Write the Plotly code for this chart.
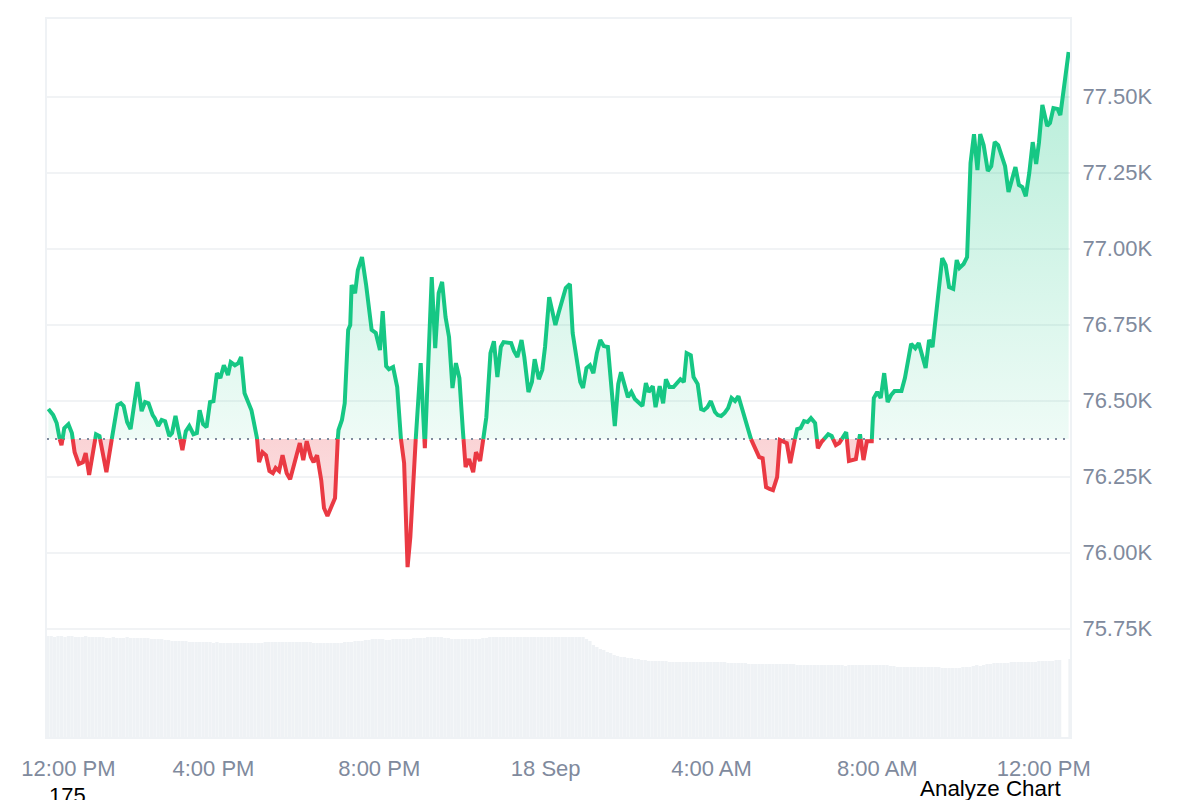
# Price line over a baseline, green above and red below, volume bars underneath
import pandas as pd
import plotly.graph_objs as go

START = pd.Timestamp('2025-09-17 12:00')
BASELINE = 76375

GREEN = '#16C784'
RED = '#EA3943'
GREY_TEXT = '#808A9D'
GRID = '#F1F3F5'
FONT = 'Liberation Sans'

# minutes after 12:00 PM for each price reading
price_minutes = [
    2, 9, 14, 18, 21, 25, 31, 36, 40, 46, 52, 56, 61, 71, 76, 86, 94, 102, 107, 111,
    116, 121, 131, 137, 142, 147, 153, 156, 161, 166, 171, 177, 181, 186, 191, 196, 201, 206, 212, 217,
    221, 226, 231, 236, 241, 246, 251, 256, 262, 266, 272, 277, 281, 286, 291, 296, 304, 307, 312, 317,
    322, 327, 331, 336, 341, 347, 352, 366, 371, 376, 382, 386, 391, 397, 401, 406, 417, 421, 422, 427,
    431, 436, 439, 441, 446, 450, 456, 462, 470, 476, 482, 486, 491, 495, 501, 507, 512, 517, 522, 526,
    534, 541, 547, 552, 557, 562, 567, 572, 577, 582, 587, 592, 597, 602, 606, 611, 617, 621, 627, 632,
    636, 642, 647, 652, 657, 661, 672, 676, 681, 687, 691, 697, 702, 706, 712, 717, 721, 727, 731, 736,
    741, 751, 757, 761, 772, 776, 781, 786, 791, 796, 801, 806, 812, 816, 822, 827, 831, 841, 846, 851,
    862, 867, 871, 877, 881, 887, 892, 896, 901, 907, 917, 922, 926, 932, 936, 942, 947, 951, 956, 961,
    967, 971, 976, 981, 986, 991, 996, 1001, 1008, 1015, 1021, 1026, 1031, 1036, 1041, 1046, 1051, 1057, 1061, 1071,
    1076, 1083, 1086, 1091, 1096, 1101, 1106, 1112, 1116, 1121, 1131, 1136, 1142, 1147, 1157, 1161, 1171, 1177, 1182, 1187,
    1194, 1197, 1202, 1207, 1212, 1217, 1222, 1227, 1237, 1242, 1251, 1257, 1262, 1272, 1277, 1282, 1296, 1301, 1306, 1312,
    1317, 1321, 1327, 1332, 1337, 1342, 1347, 1351, 1356, 1362, 1367, 1372, 1377, 1387, 1392, 1402, 1407, 1412, 1417, 1422,
    1427, 1432, 1436, 1441, 1448, 1452, 1457, 1463, 1467, 1479,
]

price_values = [
    76474, 76454, 76428, 76378, 76355, 76411, 76424, 76395, 76332, 76293, 76299, 76329, 76257, 76391, 76385, 76266, 76378, 76487, 76493, 76484,
    76431, 76408, 76563, 76467, 76497, 76493, 76454, 76444, 76418, 76438, 76434, 76385, 76395, 76451, 76395, 76339, 76401, 76418, 76391, 76395,
    76470, 76424, 76414, 76497, 76500, 76592, 76576, 76618, 76586, 76628, 76618, 76625, 76645, 76526, 76497, 76470, 76378, 76299, 76332, 76322,
    76270, 76263, 76280, 76270, 76322, 76263, 76243, 76362, 76306, 76368, 76316, 76299, 76322, 76240, 76148, 76122, 76181, 76378, 76405, 76438,
    76493, 76734, 76750, 76882, 76855, 76931, 76974, 76882, 76734, 76724, 76668, 76796, 76615, 76605, 76612, 76546, 76382, 76296, 75954, 76053,
    76382, 76625, 76345, 76612, 76908, 76674, 76855, 76892, 76776, 76711, 76543, 76625, 76576, 76405, 76283, 76309, 76266, 76332, 76303, 76382,
    76447, 76658, 76697, 76579, 76678, 76694, 76691, 76665, 76645, 76701, 76645, 76530, 76563, 76638, 76572, 76602, 76678, 76842, 76799, 76750,
    76793, 76872, 76885, 76724, 76563, 76543, 76609, 76618, 76592, 76658, 76701, 76681, 76678, 76559, 76418, 76556, 76595, 76513, 76530, 76507,
    76484, 76559, 76530, 76549, 76480, 76549, 76493, 76572, 76546, 76546, 76572, 76563, 76658, 76651, 76579, 76556, 76474, 76470, 76480, 76500,
    76464, 76454, 76451, 76461, 76477, 76510, 76500, 76516, 76461, 76398, 76365, 76336, 76316, 76312, 76217, 76211, 76207, 76250, 76372, 76362,
    76296, 76378, 76408, 76411, 76434, 76431, 76444, 76428, 76345, 76365, 76391, 76385, 76355, 76362, 76398, 76303, 76309, 76391, 76306, 76368,
    76368, 76510, 76530, 76510, 76592, 76497, 76520, 76533, 76533, 76576, 76688, 76674, 76691, 76609, 76701, 76678, 76970, 76947, 76875, 76869,
    76964, 76938, 76951, 76974, 77283, 77378, 77260, 77378, 77342, 77257, 77273, 77352, 77342, 77273, 77188, 77270, 77211, 77204, 77174, 77250,
    77352, 77280, 77349, 77474, 77405, 77415, 77464, 77461, 77441, 77648,
]

# one row per hour, a bar every five minutes
volume_values = [
    101, 101, 100, 101, 101, 100, 101, 101, 100, 100, 100, 101,
    100, 100, 100, 100, 100, 99, 99, 100, 99, 99, 99, 100,
    99, 99, 99, 99, 99, 99, 98, 98, 98, 98, 97, 97,
    96, 96, 96, 96, 96, 95, 95, 95, 95, 95, 95, 95,
    94, 95, 94, 94, 94, 94, 94, 94, 94, 94, 94, 94,
    94, 94, 94, 95, 95, 95, 95, 95, 95, 95, 95, 95,
    95, 95, 95, 95, 95, 94, 94, 94, 94, 94, 94, 94,
    94, 94, 95, 95, 95, 96, 96, 96, 97, 97, 98, 98,
    98, 98, 97, 97, 98, 98, 98, 98, 98, 98, 99, 99,
    99, 99, 100, 100, 100, 100, 100, 99, 99, 98, 98, 98,
    98, 98, 98, 98, 98, 98, 99, 99, 100, 100, 100, 100,
    100, 100, 100, 100, 100, 100, 100, 100, 100, 100, 100, 100,
    100, 100, 100, 100, 100, 100, 100, 100, 100, 100, 100, 100,
    98, 96, 92, 90, 88, 87, 85, 84, 82, 81, 80, 80,
    79, 79, 78, 78, 77, 77, 76, 76, 76, 76, 76, 76,
    75, 75, 75, 75, 75, 75, 75, 75, 75, 75, 75, 75,
    75, 75, 75, 75, 75, 74, 74, 74, 74, 74, 74, 73,
    73, 73, 73, 73, 73, 73, 73, 73, 73, 73, 73, 73,
    73, 72, 72, 72, 72, 72, 72, 72, 72, 72, 72, 72,
    72, 72, 72, 71, 72, 72, 72, 72, 72, 72, 72, 72,
    72, 72, 72, 72, 71, 71, 70, 70, 70, 70, 70, 70,
    70, 70, 70, 70, 70, 70, 70, 69, 69, 69, 69, 69,
    69, 70, 70, 70, 71, 72, 71, 72, 73, 73, 74, 74,
    74, 74, 74, 75, 75, 75, 75, 75, 75, 75, 75, 76,
    76, 76, 76, 76, 77, 77, None, None, 78,
]

y_tick_values = [75750, 76000, 76250, 76500, 76750, 77000, 77250, 77500]
y_tick_labels = ['75.75K', '76.00K', '76.25K', '76.50K', '76.75K', '77.00K', '77.25K', '77.50K']

# first label sits half an hour in so it stays inside the chart, like the original
x_tick_minutes = [31, 241, 481, 722, 962, 1202, 1443]
x_tick_labels = ['12:00 PM', '4:00 PM', '8:00 PM', '18 Sep', '4:00 AM', '8:00 AM', '12:00 PM']


def to_time(minutes):
    return START + pd.to_timedelta(minutes, unit='m')


# add a point wherever the line crosses the baseline so the two colours meet there
split_minutes = []
split_values = []
for i, (m, v) in enumerate(zip(price_minutes, price_values)):
    if i > 0:
        pm, pv = price_minutes[i - 1], price_values[i - 1]
        if (pv - BASELINE) * (v - BASELINE) < 0:
            split_minutes.append(pm + (m - pm) * (BASELINE - pv) / (v - pv))
            split_values.append(BASELINE)
    split_minutes.append(m)
    split_values.append(v)

times = [to_time(m) for m in split_minutes]
above = [v if v >= BASELINE else None for v in split_values]
below = [v if v <= BASELINE else None for v in split_values]
above_fill = [max(v, BASELINE) for v in split_values]
below_fill = [min(v, BASELINE) for v in split_values]
flat = [BASELINE] * len(times)

volume_times = [to_time(1 + 5 * k) for k in range(len(volume_values))]
x_start = START
x_end = to_time(1481)

data = [
    go.Bar(x=volume_times, y=volume_values, yaxis='y2', width=285000,
           marker=dict(color='#EFF2F5', line=dict(width=0)), hoverinfo='skip'),
    go.Scatter(x=times, y=flat, mode='lines', line=dict(width=0), hoverinfo='skip'),
    go.Scatter(x=times, y=above_fill, mode='lines', line=dict(width=0), fill='tonexty',
               fillgradient=dict(type='vertical',
                                 colorscale=[[0, 'rgba(22,199,132,0.07)'], [1, 'rgba(22,199,132,0.32)']]),
               hoverinfo='skip'),
    go.Scatter(x=times, y=flat, mode='lines', line=dict(width=0), hoverinfo='skip'),
    go.Scatter(x=times, y=below_fill, mode='lines', line=dict(width=0), fill='tonexty',
               fillgradient=dict(type='vertical',
                                 colorscale=[[0, 'rgba(234,57,67,0.1)'], [1, 'rgba(234,57,67,0.22)']]),
               hoverinfo='skip'),
    go.Scatter(x=[x_start, x_end], y=[BASELINE, BASELINE], mode='lines',
               line=dict(color=GREY_TEXT, width=2, dash='2px,6px'), hoverinfo='skip'),
    go.Scatter(x=times, y=above, mode='lines', line=dict(color=GREEN, width=4)),
    go.Scatter(x=times, y=below, mode='lines', line=dict(color=RED, width=4)),
]

layout = go.Layout(
    width=1200, height=800,
    margin=dict(l=47, r=130, t=19, b=63),
    paper_bgcolor='white', plot_bgcolor='white',
    showlegend=False,
    font=dict(family=FONT, size=22, color=GREY_TEXT),
    xaxis=dict(type='date', range=[x_start, x_end],
               tickvals=[to_time(m) for m in x_tick_minutes], ticktext=x_tick_labels,
               showgrid=False, zeroline=False, ticks='', ticklabelstandoff=11,
               showline=True, mirror=True, linecolor='#EFF2F5', linewidth=2),
    yaxis=dict(side='right', range=[75395, 77757],
               tickvals=y_tick_values, ticktext=y_tick_labels,
               gridcolor=GRID, gridwidth=2, zeroline=False, ticks='', ticklabelstandoff=6,
               ticklabelshift=-1,
               showline=True, mirror=True, linecolor='#EFF2F5', linewidth=2),
    yaxis2=dict(overlaying='y', range=[0, 718], visible=False),
    annotations=[
        dict(text='175', xref='paper', yref='paper', x=0, y=0, xanchor='left', yanchor='middle',
             xshift=0, yshift=-58, showarrow=False, font=dict(family=FONT, size=22, color='black')),
        dict(text='Analyze Chart', xref='paper', yref='paper', x=0.9932, y=0, xanchor='right', yanchor='middle',
             yshift=-51, showarrow=False, font=dict(family=FONT, size=22.4, color='black')),
    ],
)

fig = go.Figure(data=data, layout=layout)
# the page's default body margin would push the figure 8px in
fig.write_html("out.html", config={'displayModeBar': False},
               post_script="document.body.style.margin = '0';")
